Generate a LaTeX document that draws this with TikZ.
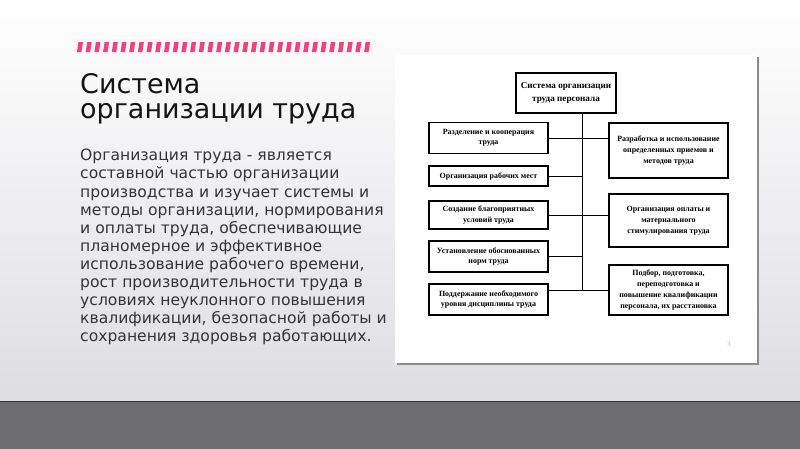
\documentclass[tikz,border=0pt]{standalone}
\usepackage{fontspec}
\newfontfamily\slidefont{DejaVu Sans}
\newfontfamily\boxfont{Liberation Serif}
\definecolor{stripepink}{RGB}{226, 74, 126}
\definecolor{slidegray}{RGB}{222, 222, 226}
\definecolor{stonegray}{RGB}{110, 109, 112}
\definecolor{bodytext}{RGB}{52, 52, 56}
\usetikzlibrary{positioning,calc}

\begin{document}
\begin{tikzpicture}[
                x=0.03cm,y=-0.03cm,
                box/.style={draw,line width=0.9pt,align=center,inner sep=1pt,font=\boxfont\bfseries\fontsize{6.8}{8.8}\selectfont},
                lbox/.style={box,minimum width=3.57cm},
                rbox/.style={box,minimum width=3.57cm,font=\boxfont\bfseries\fontsize{6.8}{9.2}\selectfont},
                link/.style={line width=0.7pt}
            ]
                \useasboundingbox (0,0) rectangle (800,449);
                \shade[top color=white,bottom color=slidegray] (0,0) rectangle (800,401);
                \fill[stonegray] (0,401) rectangle (800,449);
                \draw[black!80,line width=0.6pt] (0,401) -- (800,401);
                \fill[stripepink!6,rounded corners=2pt] (73,39) rectangle (374,55);
                \foreach \i in {0,...,33}
                    \fill[stripepink] ({77+8.7*\i},52) -- ({81.5+8.7*\i},52) -- ({83+8.7*\i},42) -- ({78.5+8.7*\i},42) -- cycle;
                \node[anchor=north west,inner sep=0,align=left,text=black!92,font=\slidefont\fontsize{23}{21.3}\selectfont] (title) at (80,73) {Система\\организации труда};
                \node[anchor=north west,inner sep=0,align=left,text=bodytext,font=\slidefont\fontsize{13.3}{15.45}\selectfont] (body) at (80,149) {Организация труда - является\\составной частью организации\\производства и изучает системы и\\методы организации, нормирования\\и оплаты труда, обеспечивающие\\планомерное и эффективное\\использование рабочего времени,\\рост производительности труда в\\условиях неуклонного повышения\\квалификации, безопасной работы и\\сохранения здоровья работающих.};
                \fill[black!45] (397,57) rectangle (759,365);
                \fill[white] (395,55) rectangle (757,363);
                \node[text=black!30,font=\boxfont\fontsize{6}{7}\selectfont] (pgnum) at (729,344) {3};
                \node[box,minimum width=3cm,minimum height=1.2cm,font=\boxfont\bfseries\fontsize{7.8}{11.3}\selectfont] (top) at (566,93) {Система организации\\труда персонала};
                \node[lbox,minimum height=0.93cm] (l1) at (488.5,138) {Разделение и кооперация\\труда};
                \node[lbox,minimum height=0.6cm] (l2) at (488.5,176) {Организация рабочих мест};
                \node[lbox,minimum height=0.84cm] (l3) at (488.5,215) {Создание благоприятных\\условий труда};
                \node[lbox,minimum height=0.93cm] (l4) at (488.5,256.5) {Установление обоснованных\\норм труда};
                \node[lbox,minimum height=0.93cm] (l5) at (488.5,299.5) {Поддержание необходимого\\уровня дисциплины труда};
                \node[rbox,minimum height=1.65cm] (r1) at (668.5,150.5) {Разработка и использование\\определенных приемов и\\методов труда};
                \node[rbox,minimum height=1.59cm] (r2) at (668.5,220.5) {Организация оплаты и\\материального\\стимулирования труда};
                \node[rbox,minimum height=1.5cm] (r3) at (668.5,290) {Подбор, подготовка,\\переподготовка и\\повышение квалификации\\персонала, их расстановка};
                \coordinate (bot) at (582,290);
                \draw[link] (top.south -| bot) -- (bot);
                \draw[link] (l1.east) -- (l1.east -| r1.west);
                \draw[link] (l2.east) -- (l2.east -| bot);
                \draw[link] (l3.east) -- (l3.east -| r2.west);
                \draw[link] (l4.east) -- (l4.east -| bot);
                \draw[link] (l5.east |- bot) -- (r3.west |- bot);
            \end{tikzpicture}
\end{document}
